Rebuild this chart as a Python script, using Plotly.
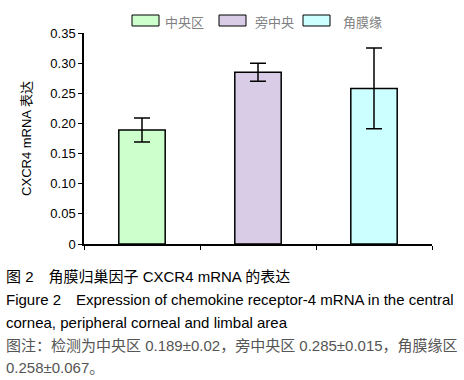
import plotly.graph_objects as go

categories = ["中央区", "旁中央", "角膜缘"]
means = [0.189, 0.285, 0.258]
errors = [0.020, 0.015, 0.067]
colors = ["#CCFFCC", "#D9CCE6", "#CCFFFF"]
ytick_vals = [0, 0.05, 0.10, 0.15, 0.20, 0.25, 0.30, 0.35]
ytick_text = ["0", "0.05", "0.10", "0.15", "0.20", "0.25", "0.30", "0.35"]

W, H = 464, 380
L, R, T, B = 84, 32, 33, 136
pw, ph = W - L - R, H - T - B

def px(x):
    return (x - L) / pw

def py(y):
    return (H - B - y) / ph

FONT = "Liberation Sans, Arial, Noto Sans CJK SC"

fig = go.Figure()
for c, m, e, col in zip(categories, means, errors, colors):
    fig.add_trace(go.Bar(
        x=[c], y=[m], name=c, width=0.4, showlegend=False,
        marker=dict(color=col, line=dict(color="black", width=1.5)),
        error_y=dict(type="data", array=[e], visible=True, color="black", thickness=1.5, width=8),
    ))

# legend drawn as key boxes + labels (layout, not data)
legend_box_x = [132, 219, 303]
legend_text_x = [163, 253, 341]
for c, col, bx, tx in zip(categories, colors, legend_box_x, legend_text_x):
    fig.add_shape(type="rect", xref="paper", yref="paper",
                  x0=px(bx), x1=px(bx + 27), y0=py(26), y1=py(15),
                  fillcolor=col, line=dict(color="black", width=1))
    fig.add_annotation(text=c, x=px(tx), y=py(21), xref="paper", yref="paper",
                       xanchor="left", yanchor="middle", showarrow=False,
                       font=dict(size=13, color="#808080", family="Noto Sans CJK SC"))

fig.update_layout(
    width=W, height=H, barmode="overlay",
    margin=dict(l=L, r=R, t=T, b=B, autoexpand=False),
    paper_bgcolor="white", plot_bgcolor="white",
    font=dict(family=FONT, size=13, color="black"),
    showlegend=False,
    xaxis=dict(type="category", categoryorder="array", categoryarray=categories,
               range=[-0.5, 2.5], showticklabels=False, ticks="outside", ticklen=4,
               tickson="boundaries", tickcolor="black", showline=True, linecolor="black",
               linewidth=1.5, showgrid=False, zeroline=False),
    yaxis=dict(range=[0, 0.35], tickvals=ytick_vals, ticktext=ytick_text, ticks="outside",
               ticklen=4, tickcolor="black", showline=True, linecolor="black", linewidth=1.5,
               showgrid=False, zeroline=False, tickfont=dict(size=13),
               title=dict(text="CXCR4 mRNA 表达", font=dict(size=13), standoff=16)),
)

captions = [
    ("图 2　角膜归巢因子 CXCR4 mRNA 的表达", 276, "black"),
    ("Figure 2　Expression of chemokine receptor-4 mRNA in the central", 299, "black"),
    ("cornea, peripheral corneal and limbal area", 322, "black"),
    ("图注：检测为中央区 0.189±0.02，旁中央区 0.285±0.015，角膜缘区", 345, "#555555"),
    ("0.258±0.067。", 367, "#555555"),
]
for text, yc, col in captions:
    fig.add_annotation(text=text, x=px(4), y=py(yc), xref="paper", yref="paper",
                       xanchor="left", yanchor="middle", showarrow=False,
                       font=dict(size=15, color=col, family=FONT))

fig.write_html("out.html", config={"displayModeBar": False},
               post_script="document.body.style.margin='0';")
